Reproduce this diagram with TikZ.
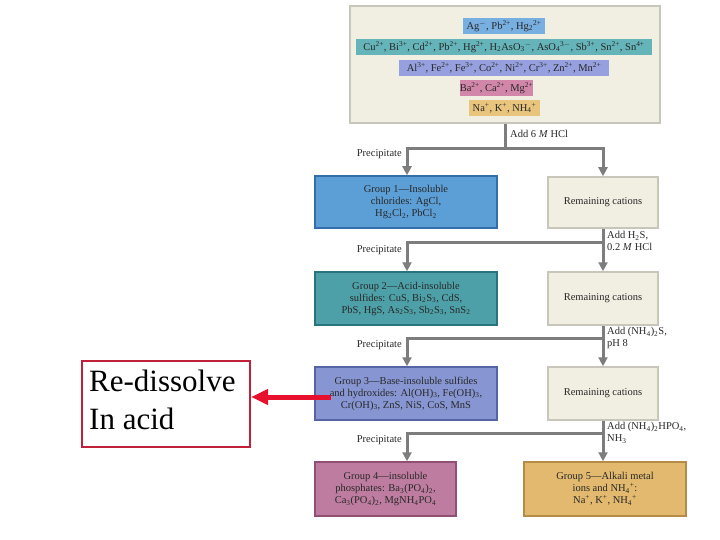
\documentclass[tikz,border=0pt]{standalone}
\usepackage{fontspec}
\setmainfont{Liberation Serif}
\usetikzlibrary{arrows.meta}
\definecolor{cream}{RGB}{241,238,226}
\definecolor{creamb}{RGB}{200,197,186}
\definecolor{gone}{RGB}{92,158,214}
\definecolor{goneb}{RGB}{50,110,170}
\definecolor{gtwo}{RGB}{78,160,168}
\definecolor{gtwob}{RGB}{40,115,125}
\definecolor{gthree}{RGB}{135,150,210}
\definecolor{gthreeb}{RGB}{85,100,165}
\definecolor{gfour}{RGB}{190,125,160}
\definecolor{gfourb}{RGB}{145,80,115}
\definecolor{gfive}{RGB}{226,185,110}
\definecolor{gfiveb}{RGB}{180,140,70}
\definecolor{sag}{RGB}{120,175,225}
\definecolor{scu}{RGB}{100,180,185}
\definecolor{sal}{RGB}{150,160,222}
\definecolor{sba}{RGB}{210,135,170}
\definecolor{sna}{RGB}{232,196,125}
\definecolor{flowgray}{RGB}{125,125,125}
\definecolor{redarrow}{RGB}{232,17,45}
\definecolor{redbox}{RGB}{192,32,56}
\definecolor{txt}{RGB}{40,40,40}
\newcommand\mysub[1]{\textsubscript{#1}}
\newcommand\mysup[1]{\textsuperscript{#1}}
\tikzset{
  smalltext/.style={font=\fontsize{10.5}{12}\selectfont, text=txt},
  gbox/.style={smalltext, draw=#1, line width=1.5pt, align=center, inner sep=0pt},
  strip/.style={smalltext, fill=#1, inner sep=0pt, minimum height=16pt},
  flow/.style={draw=flowgray, line width=3pt},
  flowarrow/.style={flow, -{Triangle[length=9pt,width=9pt]}},
  steplabel/.style={smalltext, align=left, anchor=north west, inner sep=0pt},
  preclabel/.style={smalltext, anchor=east, inner sep=0pt}
}
\begin{document}
\begin{tikzpicture}[x=1pt,y=-1pt]
\useasboundingbox (0,0) rectangle (720,540);
% top box
\node[gbox=creamb, fill=cream, minimum width=310pt, minimum height=117pt] (top) at (505,64.5) {};
\node[strip=sag, minimum width=82pt] (sag) at (504,26) {Ag\mysup{$-$}, Pb\mysup{2+}, Hg\mysub{2}\mysup{2+}};
\node[strip=scu, minimum width=296pt] (scu) at (504,47) {Cu\mysup{2+}, Bi\mysup{3+}, Cd\mysup{2+}, Pb\mysup{2+}, Hg\mysup{2+}, H\mysub{2}AsO\mysub{3}\mysup{$-$}, AsO\mysub{4}\mysup{3$-$}, Sb\mysup{3+}, Sn\mysup{2+}, Sn\mysup{4+}};
\node[strip=sal, minimum width=210pt] (sal) at (504,68) {Al\mysup{3+}, Fe\mysup{2+}, Fe\mysup{3+}, Co\mysup{2+}, Ni\mysup{2+}, Cr\mysup{3+}, Zn\mysup{2+}, Mn\mysup{2+}};
\node[strip=sba, minimum width=67pt] (sba) at (496.5,88) {Ba\mysup{2+}, Ca\mysup{2+}, Mg\mysup{2+}};
\node[strip=sna, minimum width=71pt] (sna) at (504.5,108) {Na\mysup{+}, K\mysup{+}, NH\mysub{4}\mysup{+}};
% group boxes
\node[gbox=goneb, fill=gone, minimum width=182pt, minimum height=52pt] (g1) at (406,202) {Group 1---Insoluble\\chlorides: AgCl,\\Hg\mysub{2}Cl\mysub{2}, PbCl\mysub{2}};
\node[gbox=creamb, fill=cream, minimum width=110pt, minimum height=51pt] (rem1) at (603,202.5) {Remaining cations};
\node[gbox=gtwob, fill=gtwo, minimum width=182pt, minimum height=53pt] (g2) at (406,298.5) {Group 2---Acid-insoluble\\sulfides: CuS, Bi\mysub{2}S\mysub{3}, CdS,\\PbS, HgS, As\mysub{2}S\mysub{3}, Sb\mysub{2}S\mysub{3}, SnS\mysub{2}};
\node[gbox=creamb, fill=cream, minimum width=110pt, minimum height=53pt] (rem2) at (603,298.5) {Remaining cations};
\node[gbox=gthreeb, fill=gthree, minimum width=182pt, minimum height=53pt] (g3) at (406,393.5) {Group 3---Base-insoluble sulfides\\and hydroxides: Al(OH)\mysub{3}, Fe(OH)\mysub{3},\\Cr(OH)\mysub{3}, ZnS, NiS, CoS, MnS};
\node[gbox=creamb, fill=cream, minimum width=110pt, minimum height=53pt] (rem3) at (603,393.5) {Remaining cations};
\node[gbox=gfourb, fill=gfour, minimum width=141pt, minimum height=54pt] (g4) at (385.5,489) {Group 4---insoluble\\phosphates: Ba\mysub{3}(PO\mysub{4})\mysub{2},\\Ca\mysub{3}(PO\mysub{4})\mysub{2}, MgNH\mysub{4}PO\mysub{4}};
\node[gbox=gfiveb, fill=gfive, minimum width=162pt, minimum height=54pt] (g5) at (605,489) {Group 5---Alkali metal\\ions and NH\mysub{4}\mysup{+}:\\Na\mysup{+}, K\mysup{+}, NH\mysub{4}\mysup{+}};
% junction coordinates
\coordinate (j1) at (505,149);
\coordinate (l1) at (407,149);
\coordinate (r1) at (603,149);
\coordinate (l2) at (407,242);
\coordinate (r2) at (603,242);
\coordinate (l3) at (407,338);
\coordinate (r3) at (603,338);
\coordinate (l4) at (407,433);
\coordinate (r4) at (603,433);
% flow lines
\draw[flow] (top.south) -- (j1);
\draw[flowarrow] (j1) -- (l1) -- (l1 |- g1.north);
\draw[flowarrow] (j1) -- (r1) -- (rem1.north);
\draw[flowarrow] (rem1.south) -- (r2) -- (rem2.north);
\draw[flowarrow] (r2) -- (l2) -- (l2 |- g2.north);
\draw[flowarrow] (rem2.south) -- (r3) -- (rem3.north);
\draw[flowarrow] (r3) -- (l3) -- (l3 |- g3.north);
\draw[flowarrow] (rem3.south) -- (r4) -- (r4 |- g5.north);
\draw[flowarrow] (r4) -- (l4) -- (l4 |- g4.north);
% labels
\node[steplabel] (a1) at (510,130) {Add 6 \textit{M} HCl};
\node[steplabel] (a2) at (607,231) {Add H\mysub{2}S,\\0.2 \textit{M} HCl};
\node[steplabel] (a3) at (607,327) {Add (NH\mysub{4})\mysub{2}S,\\pH 8};
\node[steplabel] (a4) at (607,422) {Add (NH\mysub{4})\mysub{2}HPO\mysub{4},\\NH\mysub{3}};
\node[preclabel] (p1) at (402,154) {Precipitate};
\node[preclabel] (p2) at (402,250) {Precipitate};
\node[preclabel] (p3) at (402,345) {Precipitate};
\node[preclabel] (p4) at (402,440) {Precipitate};
% red box and arrow
\node[draw=redbox, line width=2pt, minimum width=168pt, minimum height=86pt, inner sep=0pt] (red) at (166,404) {};
\node[anchor=north west, align=left, inner sep=0pt, font=\fontsize{31}{38}\selectfont] (redtxt) at (89,370) {Re-dissolve\\In acid};
\coordinate (rs) at (331,397);
\draw[redarrow, line width=5pt, -{Triangle[length=17pt,width=15pt]}] (rs) -- (red.east |- rs);
\end{tikzpicture}
\end{document}
